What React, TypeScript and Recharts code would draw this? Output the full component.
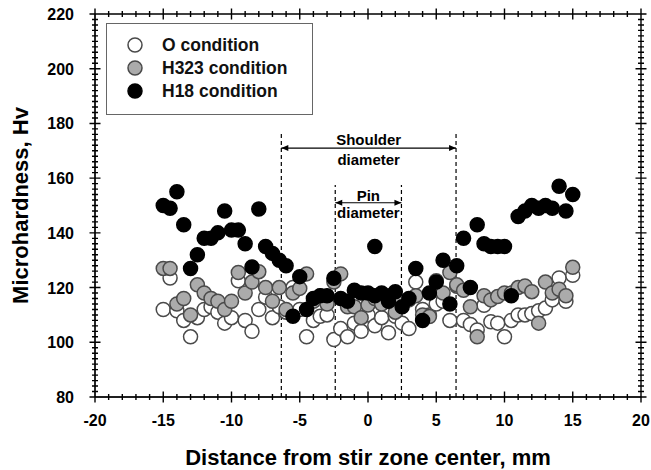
import { ScatterChart, Scatter, XAxis, YAxis, ReferenceLine } from 'recharts'

// distance from stir zone center, mm (0.5 mm steps)
const distanceMm = [
  -15, -14.5, -14, -13.5, -13, -12.5, -12, -11.5, -11, -10.5, -10, -9.5, -9, -8.5, -8, -7.5,
  -7, -6.5, -6, -5.5, -5, -4.5, -4, -3.5, -3, -2.5, -2, -1.5, -1, -0.5, 0, 0.5, 1, 1.5, 2,
  2.5, 3, 3.5, 4, 4.5, 5, 5.5, 6, 6.5, 7, 7.5, 8, 8.5, 9, 9.5, 10, 10.5, 11, 11.5, 12, 12.5,
  13, 13.5, 14, 14.5, 15,
]

const oHv = [
  112, 123.5, 111.5, 108, 102, 109, 112, 113, 111, 107, 109, 122.5, 108, 104, 112, 116.5,
  109, 113, 111, 120, 112, 102, 108, 109.5, 110, 101, 105, 102, 107, 104, 110, 106, 109, 103.5,
  109.5, 107, 105, 122, 112, 110, 114, 115, 108, 120.5, 108, 106.5, 104.5, 113.5, 107.5, 107,
  102, 108, 110, 110, 110.5, 111.5, 112.5, 115.5, 123.5, 115, 124.5,
]

const h323Hv = [
  127, 127, 114, 116, 110, 121, 118, 116, 115, 112, 115, 125.5, 118, 122, 125.8, 120, 115, 120,
  112, 118, 119.7, 125, 115, 117, 114, 122, 125, 113, 113, 109, 113.6, 116, 114, 117, 111, 115,
  115.5, 117, 110, 109.4, 122.5, 118, 125.5, 121, 119, 113, 102, 117, 115.5, 116.7, 118, 118,
  120, 120.6, 118.5, 107, 122, 118, 119.4, 117, 127.4,
]

const h18Hv = [
  150, 149, 155, 143, 127, 132, 138, 138, 140, 148, 141, 141, 136, 127.5, 148.7, 135, 132.5,
  130, 128, 109.5, 124, 112, 116, 117, 117, 123.4, 116, 115, 119, 118, 118, 135, 118, 115,
  118.5, 113, 116, 127, 108, 118, 122, 130, 114, 128, 138, 120, 143, 136, 135, 135, 135, 117,
  146, 148, 150, 149, 150, 149, 157, 148, 154,
]
const h18ExtraX = [0.5]
const h18ExtraHv = [117]

const xDomain = [-20, 20]
const yDomain = [80, 220]
const xMajor = [-20, -15, -10, -5, 0, 5, 10, 15, 20]
const yMajor = [80, 100, 120, 140, 160, 180, 200, 220]
const xMinor = Array.from({ length: 41 }, (_, i) => i - 20)
const yMinor = Array.from({ length: 71 }, (_, i) => 80 + i * 2)

// shoulder and pin limits, mm
const shoulderEdges = [-6.35, 6.45]
const pinEdges = [-2.4, 2.45]

const toPoints = (xs: number[], ys: number[]) => xs.map((x, i) => ({ x, y: ys[i] }))

const oData = toPoints(distanceMm, oHv)
const h323Data = toPoints(distanceMm, h323Hv)
const h18Data = [...toPoints(distanceMm, h18Hv), ...toPoints(h18ExtraX, h18ExtraHv)]

const FONT = '"Liberation Sans", Arial, sans-serif'

const W = 651
const H = 470
const MARGIN = { top: 14, right: 10, bottom: 33, left: 35 }
const Y_AXIS_W = 60
const X_AXIS_H = 40

const series = [
  { name: 'O condition', fill: '#ffffff', stroke: '#4a4a4a', data: oData },
  { name: 'H323 condition', fill: '#ababab', stroke: '#4a4a4a', data: h323Data },
  { name: 'H18 condition', fill: '#000000', stroke: '#000000', data: h18Data },
]

const dot = (fill: string, stroke: string) => (props: any) => (
  <circle cx={props.cx} cy={props.cy} r={7} fill={fill} stroke={stroke} strokeWidth={1.5} />
)

const XLabel = (props: any) => (
  <text x={props.x} y={Number(props.y) + 21} textAnchor="middle" fontFamily={FONT} fontWeight="bold" fontSize={16} fill="#000">
    {props.payload.value}
  </text>
)

const YLabel = (props: any) => (
  <text x={Number(props.x) - 13} y={Number(props.y) + 6} textAnchor="end" fontFamily={FONT} fontWeight="bold" fontSize={16} fill="#000">
    {props.payload.value}
  </text>
)

const arrowShape = (top: string, bottom: string, gapTop: number, gapBottom: number) => (props: any) => {
  const { x1, x2, y1 } = props
  const mid = (x1 + x2) / 2
  return (
    <g>
      <line x1={x1} x2={x2} y1={y1} y2={y1} stroke="#000" strokeWidth={1.2} />
      <polygon points={`${x1},${y1} ${x1 + 7},${y1 - 3} ${x1 + 7},${y1 + 3}`} fill="#000" />
      <polygon points={`${x2},${y1} ${x2 - 7},${y1 - 3} ${x2 - 7},${y1 + 3}`} fill="#000" />
      <text x={mid} y={y1 - gapTop} textAnchor="middle" fontFamily={FONT} fontWeight="bold" fontSize={15} fill="#000">
        {top}
      </text>
      <text x={mid} y={y1 + gapBottom} textAnchor="middle" fontFamily={FONT} fontWeight="bold" fontSize={15} fill="#000">
        {bottom}
      </text>
    </g>
  )
}

// frame with ticks crossing all four sides, placed on the chart's plot box
const Frame = () => {
  const left = MARGIN.left + Y_AXIS_W
  const top = MARGIN.top
  const right = W - MARGIN.right
  const bottom = H - MARGIN.bottom - X_AXIS_H
  const sx = (v: number) => left + ((v - xDomain[0]) / (xDomain[1] - xDomain[0])) * (right - left)
  const sy = (v: number) => bottom - ((v - yDomain[0]) / (yDomain[1] - yDomain[0])) * (bottom - top)
  let d = `M${left},${top}H${right}V${bottom}H${left}Z`
  xMinor.forEach((v) => {
    const len = xMajor.includes(v) ? 5.5 : 3
    d += `M${sx(v)},${bottom - len}V${bottom + len}M${sx(v)},${top - len}V${top + len}`
  })
  yMinor.forEach((v) => {
    const len = yMajor.includes(v) ? 5.5 : 3
    d += `M${left - len},${sy(v)}H${left + len}M${right - len},${sy(v)}H${right + len}`
  })
  return (
    <svg width={W} height={H} style={{ position: 'absolute', left: 0, top: 0, pointerEvents: 'none' }}>
      <path d={d} stroke="#000" strokeWidth={1.4} fill="none" />
    </svg>
  )
}

const LegendBox = () => (
  <div
    style={{
      position: 'absolute',
      left: 106,
      top: 23,
      width: 207,
      height: 92,
      border: '1.5px solid #666',
      boxSizing: 'border-box',
      background: '#fff',
    }}
  >
    <svg width={204} height={89}>
      {series.map((s, i) => (
        <g key={s.name}>
          <circle cx={28} cy={21 + i * 23} r={7} fill={s.fill} stroke={s.stroke} strokeWidth={1.5} />
          <text x={55} y={27 + i * 23} fontFamily={FONT} fontWeight="bold" fontSize={17.5} fill="#111">
            {s.name}
          </text>
        </g>
      ))}
    </svg>
  </div>
)

export default function App() {
  return (
    <div style={{ position: 'absolute', left: 0, top: 0, width: W, height: H, background: '#fff' }}>
      <ScatterChart width={W} height={H} margin={MARGIN}>
        <XAxis
          type="number"
          dataKey="x"
          domain={xDomain}
          ticks={xMajor}
          interval={0}
          height={X_AXIS_H}
          stroke="#000"
          tickLine={false}
          tick={<XLabel />}
          label={{ value: 'Distance from stir zone center, mm', position: 'insideBottom', offset: -28, style: { fontFamily: FONT, fontWeight: 'bold', fontSize: 22, fill: '#000' } }}
        />
        <YAxis
          type="number"
          dataKey="y"
          domain={yDomain}
          ticks={yMajor}
          interval={0}
          width={Y_AXIS_W}
          stroke="#000"
          tickLine={false}
          tick={<YLabel />}
          label={{ value: 'Microhardness, Hv', angle: -90, position: 'insideLeft', offset: -15, style: { textAnchor: 'middle', fontFamily: FONT, fontWeight: 'bold', fontSize: 22, fill: '#000' } }}
        />
        {[...shoulderEdges, ...pinEdges].map((e, i) => (
          <ReferenceLine
            key={`edge-${i}`}
            segment={[{ x: e, y: 80 }, { x: e, y: i < 2 ? 176.5 : 157.5 }]}
            stroke="#000"
            strokeWidth={1.2}
            strokeDasharray="4 3"
          />
        ))}
        <ReferenceLine
          segment={[{ x: shoulderEdges[0], y: 171 }, { x: shoulderEdges[1], y: 171 }]}
          shape={arrowShape('Shoulder', 'diameter', 3, 17)}
        />
        <ReferenceLine
          segment={[{ x: pinEdges[0], y: 151 }, { x: pinEdges[1], y: 151 }]}
          shape={arrowShape('Pin', 'diameter', 2, 15)}
        />
        {series.map((s) => (
          <Scatter
            key={s.name}
            name={s.name}
            data={s.data}
            fill={s.fill}
            shape={dot(s.fill, s.stroke)}
            isAnimationActive={false}
          />
        ))}
      </ScatterChart>
      <Frame />
      <LegendBox />
    </div>
  )
}
